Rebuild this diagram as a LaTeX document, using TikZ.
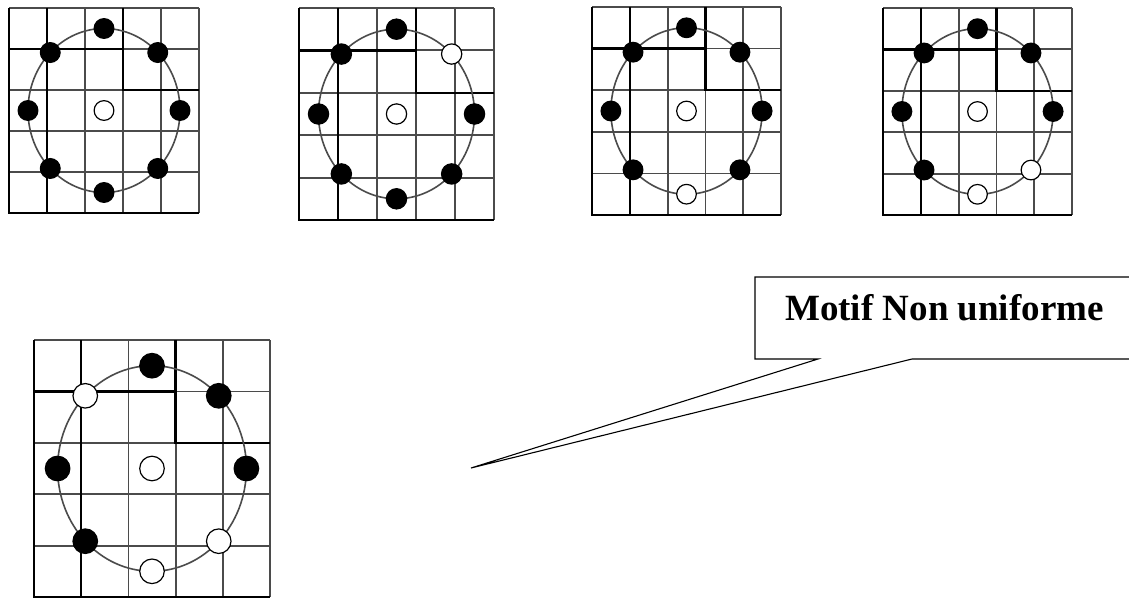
\documentclass[tikz,border=0pt]{standalone}
\usepackage{fontspec}
\setmainfont{Liberation Serif}
\usetikzlibrary{math}
\definecolor{qgrey}{RGB}{75,75,75}

\begin{document}
\begin{tikzpicture}[x=1pt,y=-1pt,
  gridline/.style={qgrey, line width=1.8},
  boldline/.style={black, line width=2.4},
  ring/.style={qgrey, line width=1.6},
  dot/.style={black, line width=1.2},
  callout line/.style={black, line width=1.1}]

\useasboundingbox (0,0) rectangle (1129,599);

\tikzmath{
\boxl = 755; \boxt = 277;
\boxw = 385; \boxh = 82;
\tipx = 471; \tipy = 468;
}

%grids: left/top/cell width/cell height/colours of the 8 points
\foreach \gx/\gy/\cw/\ch/\pat in {
  9/8/38/41/{black,black,black,black,black,black,black,black},
  299/8/39/42.4/{black,white,black,black,black,black,black,black},
  592/7/37.8/41.6/{black,black,black,black,black,black,white,black},
  883/8/37.8/41.4/{black,black,black,black,black,black,white,white},
  34/340/47.2/51.4/{black,black,black,white,black,black,white,white}}{
\begin{scope}[shift={(\gx,\gy)},x=\cw pt,y=-\ch pt]
\pgfmathsetmacro\rdot{0.26*\cw}
\foreach \i in {0,...,5} {
  \draw[gridline] (\i,0) -- (\i,5);
  \draw[gridline] (0,\i) -- (5,\i);
}
%darker lines
\draw[boldline] (0,0) -- (0,5) -- (5,5);
\draw[boldline] (1,0) -- (1,5);
\draw[boldline] (0,1) -- (3,1);
\draw[boldline] (3,0) -- (3,2) -- (5,2);
%circle and centre
\draw[ring] (2.5,2.5) ellipse[x radius=2, y radius=2];
\draw[dot, fill=white] (2.5,2.5) circle[radius=\rdot pt];
\foreach \c [count=\k from 0] in \pat
  \draw[dot, fill=\c] ({2.5+2*cos(45*\k)},{2.5-2*sin(45*\k)}) circle[radius=\rdot pt];
\end{scope}
}

%callout:
\node[minimum width=\boxw, minimum height=\boxh, inner sep=0, outer sep=0, anchor=north west] (callout) at (\boxl,\boxt) {};
\node[anchor=base west, inner sep=0, font=\bfseries\fontsize{37}{44}\selectfont] (motif) at (785,320) {Motif Non uniforme};
\coordinate (tip) at (\tipx,\tipy);
\draw[callout line] (callout.north east) -- (callout.north west) -- (callout.south west)
  -- ([xshift=63]callout.south west) -- (tip) -- ([xshift=157]callout.south west) -- (callout.south east);

\end{tikzpicture}
\end{document}
